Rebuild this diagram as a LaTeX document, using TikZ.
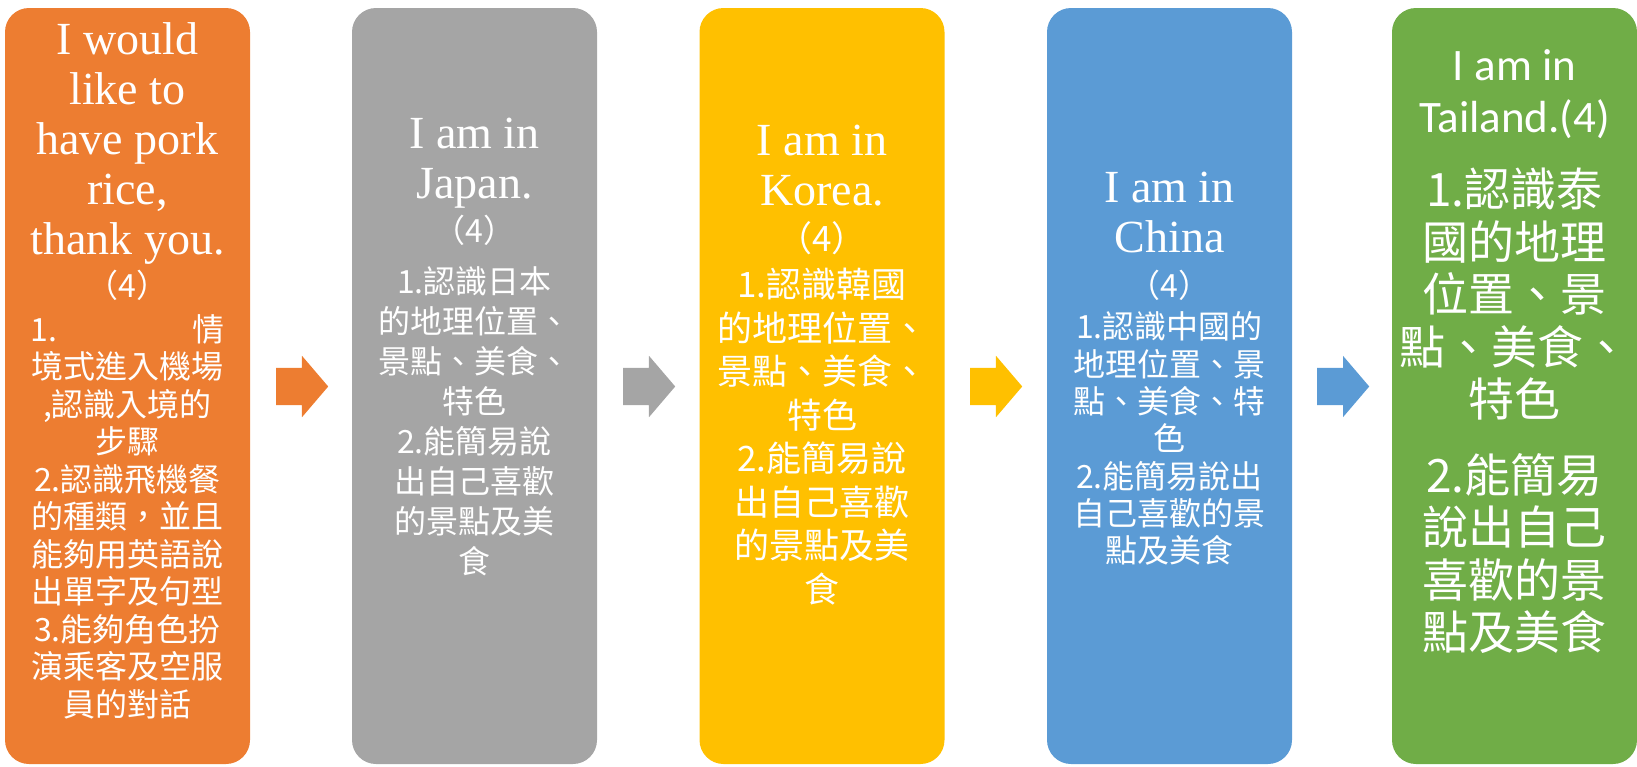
\documentclass[tikz,border=0pt]{standalone}
\usepackage{fontspec}
\newfontfamily\cjk{Noto Sans CJK TC}
\newfontfamily\serifen{Liberation Serif}
\newfontfamily\sansen{Carlito}
\usetikzlibrary{shapes.arrows}
\definecolor{orangebox}{HTML}{ED7D31}
\definecolor{graybox}{HTML}{A5A5A5}
\definecolor{goldbox}{HTML}{FFC000}
\definecolor{bluebox}{HTML}{5B9BD5}
\definecolor{greenbox}{HTML}{70AD47}
\begin{document}
\begin{tikzpicture}[x=1pt,y=-1pt,
                box/.style={rectangle,rounded corners=24pt,inner sep=0pt,
                minimum width=245pt,minimum height=756pt},
                arrowbox/.style={single arrow,inner xsep=0pt,inner ysep=18.5pt,anchor=tail,
                minimum height=52pt,
                single arrow head extend=12pt,single arrow tip angle=99},
                entext/.style={anchor=north,align=center,text=white,inner sep=0pt,
                font=\serifen\fontsize{46}{50}\selectfont},
                zhtext/.style={anchor=north,align=center,text=white,inner sep=0pt,
                font=\cjk\fontsize{32}{37.5}\selectfont}]
                \useasboundingbox (0,0) rectangle (1637,766);
                % the five stages
                \node (b1) at ( 127.5,386) [box,fill=orangebox] {};
                \node (b2) at ( 474.5,386) [box,fill=graybox] {};
                \node (b3) at ( 822.0,386) [box,fill=goldbox] {};
                \node (b4) at (1169.5,386) [box,fill=bluebox] {};
                \node (b5) at (1514.5,386) [box,fill=greenbox] {};
                % arrows between them
                \node (a1) at ( 276,386.5) [arrowbox,fill=orangebox] {};
                \node (a2) at ( 623,386.5) [arrowbox,fill=graybox] {};
                \node (a3) at ( 970,386.5) [arrowbox,fill=goldbox] {};
                \node (a4) at (1317,386.5) [arrowbox,fill=bluebox] {};
                % texts
                \node (en1) at (127.5,22) [entext] {I would\\like to\\have pork\\rice,\\thank you.};
                \node (zh1) at (127.5,270) [zhtext] {（4）\\[6pt]1.\hspace{4.2em}情\\境式進入機場\\,認識入境的\\步驟\\2.認識飛機餐\\的種類，並且\\能夠用英語說\\出單字及句型\\3.能夠角色扮\\演乘客及空服\\員的對話};
                \node (en2) at (474.5,118) [entext] {I am in\\Japan.};
                \node (zh2) at (474.5,215) [zhtext,font=\cjk\fontsize{32}{40}\selectfont] {（4）\\[11pt]1.認識日本\\的地理位置、\\景點、美食、\\特色\\2.能簡易說\\出自己喜歡\\的景點及美\\食};
                \node (en3) at (822,125) [entext] {I am in\\Korea.};
                \node (zh3) at (822,221) [zhtext,font=\cjk\fontsize{35}{43.5}\selectfont] {（4）\\[3pt]1.認識韓國\\的地理位置、\\景點、美食、\\特色\\2.能簡易說\\出自己喜歡\\的景點及美\\食};
                \node (en4) at (1169.5,172) [entext] {I am in\\China};
                \node (zh4) at (1169.5,270) [zhtext,font=\cjk\fontsize{32}{37.3}\selectfont] {（4）\\[4pt]1.認識中國的\\地理位置、景\\點、美食、特\\色\\2.能簡易說出\\自己喜歡的景\\點及美食};
                \node (en5) at (1514.5,49) [entext,font=\sansen\fontsize{45}{52}\selectfont] {I am in\\Tailand.(4)};
                \node (zh5) at (1514.5,168) [zhtext,font=\cjk\fontsize{46}{52.5}\selectfont] {1.認識泰\\國的地理\\位置、景\\點、美食、\\特色\\[23pt]2.能簡易\\說出自己\\喜歡的景\\點及美食};
            \end{tikzpicture}
\end{document}
